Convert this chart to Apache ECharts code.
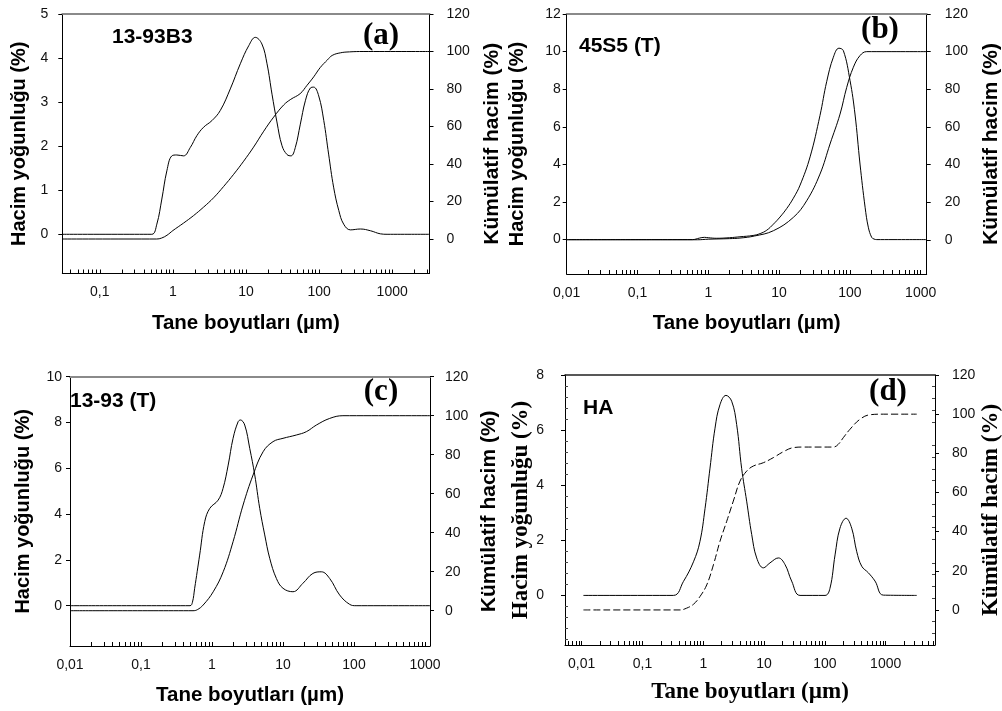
<!DOCTYPE html>
<html><head><meta charset="utf-8">
<script src="https://cdn.jsdelivr.net/npm/echarts@6/dist/echarts.min.js"></script>
<style>html,body{margin:0;padding:0;background:#fff}#c{width:1002px;height:711px}</style>
</head><body><div id="c"></div>
<script>
// ---------- DATA ----------
// Panel (a) 13-93B3
const aDensSize = [0.0307,0.3,0.515,0.603,0.706,0.827,0.968,1.13,1.40,1.73,2.13,2.63,3.42,4.45,6.1,8.36,10.9,13.4,16.5,19.4,22.7,26.5,31.1,36.4,41.3,47.3,55.4,64.9,76,84.4,98.9,116,135,158,186,217,268,368,505,692,851,3240];
const aDens     = [0,0,0,0.23,0.80,1.44,1.78,1.80,1.78,1.97,2.24,2.43,2.58,2.81,3.30,3.87,4.28,4.47,4.32,3.87,3.18,2.55,2.01,1.81,1.78,1.97,2.50,3.03,3.32,3.34,3.14,2.58,1.82,1.07,0.54,0.23,0.10,0.12,0.08,0.01,0,0];
const aCumSize  = [0.0307,0.6,0.7,0.83,1.0,1.4,1.92,2.63,3.61,4.94,6.78,9.29,12.7,17.5,23.9,32.8,41,55,68.5,84.5,104,130,151,196,260,400,3240];
const aCum      = [0,0,0.5,2,4.5,8.5,12.5,17,22,28,34.5,41.5,49,57.5,65,71.5,74.5,77.5,82,86.5,91.5,95.5,97.9,99.3,99.8,100,100];
// Panel (b) 45S5 (T)
const bDensSize = [0.01,0.6,0.75,0.88,1.0,1.3,2,2.8,4.3,5.4,6.7,8.3,10.3,12.8,15.9,19.8,27.4,37.8,47,58.4,70,80.9,100.5,118,139,164,182,203,219,240,1216];
const bDens     = [0,0,0.08,0.12,0.1,0.07,0.1,0.15,0.22,0.32,0.5,0.82,1.2,1.65,2.2,2.9,4.4,6.6,8.4,9.7,10.18,10.05,8.46,6.68,4.02,1.72,0.66,0.12,0.03,0,0];
const bCumSize  = [0.01,0.7,1,2,2.8,4.5,8.3,15.9,24.5,37.8,52.4,72.6,90.2,112,139,173,1216];
const bCum      = [0,0,0.3,0.6,0.9,2,4.8,11.9,20.7,34.9,50.9,66.8,81,91.7,97.9,100,100];
// Panel (c) 13-93 (T)
const cDensSize = [0.01,0.49,0.53,0.57,0.67,0.79,0.93,1.22,1.43,1.69,1.98,2.33,2.51,2.89,3.40,4.0,4.7,5.53,6.5,8.07,10,13.8,19.1,26.4,34.7,45.4,62.7,86.7,107,1176];
const cDens     = [0,0,0.15,0.76,2.21,3.67,4.25,4.61,5.12,6.14,7.31,8.03,8.11,7.89,6.87,5.71,4.25,3.09,2.07,1.19,0.76,0.61,0.98,1.41,1.48,1.19,0.47,0.06,0,0];
const cCumSize  = [0.01,0.54,0.62,0.75,1.04,1.44,1.98,2.74,3.79,5.24,7.24,10,15.4,21.3,29.5,45.4,69.8,1176];
const cCum      = [0,0,0.5,2.9,9.7,20,35.4,54.2,69.6,81.5,86.7,88.4,90.1,91.8,95.2,98.6,100,100];
// Panel (d) HA
const dDensSize = [0.0107,0.322,0.47,0.69,0.88,1.07,1.29,1.56,1.88,2.36,2.93,3.54,4.28,5.17,6.26,7.56,9.73,12.5,17.2,22.1,28.4,39,100.5,121,147,177,223,276,333,403,519,668,916,3240];
const dDens     = [0,0,0.50,1.22,1.95,3.16,4.62,6.07,6.92,7.26,7.05,6.20,4.6,3.42,2.21,1.36,1.00,1.18,1.36,1.12,0.52,0,0,0.25,1.47,2.44,2.80,2.44,1.60,1.06,0.82,0.52,0.01,0];
const dCumSize  = [0.0107,0.414,0.53,0.69,0.88,1.14,1.47,1.88,2.43,3.12,4.02,5.17,6.65,9.73,14.2,20.7,30.3,44.3,138,166,201,259,378,552,916,3240];
const dCum      = [0,0,0.9,2.9,6.8,12.8,23.1,35,45.3,55.6,65.8,70.9,73.5,75.2,77.8,80.8,82.9,83.2,83.2,84.6,88,92.3,97.4,99.7,100,100];

// Tick labels
const xLabelsA   = [0.1, 1, 10, 100, 1000];
const xLabelsBCD = [0.01, 0.1, 1, 10, 100, 1000];
const yTicksA = [0, 1, 2, 3, 4, 5];
const yTicksB = [0, 2, 4, 6, 8, 10, 12];
const yTicksC = [0, 2, 4, 6, 8, 10];
const yTicksD = [0, 2, 4, 6, 8];
const cumTicks = [0, 20, 40, 60, 80, 100, 120];

const sampleNames = ['13-93B3', '45S5 (T)', '13-93 (T)', 'HA'];
const panelTags = ['(a)', '(b)', '(c)', '(d)'];
const xTitle = 'Tane boyutları (µm)';
const yLeftTitle = 'Hacim yoğunluğu (%)';
const yRightTitle = 'Kümülatif hacim (%)';

// ---------- BUILD ----------
const SANS = '"Liberation Sans", Arial, sans-serif';
const SERIF = '"Liberation Serif", "Times New Roman", serif';
const zip = (xs, ys) => xs.map((x, i) => [x, ys[i]]);
function logMinorTicks(min, max) {
  const out = [];
  for (let e = -3; e <= 4; e++) for (let m = 1; m <= 9; m++) {
    const v = +(m * Math.pow(10, e)).toPrecision(6);
    if (v > min && v < max) out.push(v);
  }
  return out;
}
const fmtX = v => (v < 1 ? String(v).replace('.', ',') : String(v));

const panels = [
  { grid: {left: 62.3, top: 14, width: 367.2, height: 259.5}, xMin: 0.0307, xMax: 3240, xLabels: xLabelsA,
    yL: {min: -0.89, max: 5, ticks: yTicksA}, yR: {min: -18.4, max: 120, ticks: cumTicks},
    dens: zip(aDensSize, aDens), cum: zip(aCumSize, aCum), dashed: false, serif: false,
    gapL: 33, gapR: 52, gapX: 39, mL: 14, mR: 17, topColor: '#8a8a8a', topW: 2, minorY: false,
    tag: [381, 36], name: [112, 37] },
  { grid: {left: 566.7, top: 14, width: 360, height: 260}, xMin: 0.01, xMax: 1216, xLabels: xLabelsBCD,
    yL: {min: -1.83, max: 12, ticks: yTicksB}, yR: {min: -18.2, max: 120, ticks: cumTicks},
    dens: zip(bDensSize, bDens), cum: zip(bCumSize, bCum), dashed: false, serif: false,
    gapL: 39, gapR: 54, gapX: 39, mL: 6, mR: 18, topColor: '#8a8a8a', topW: 2, minorY: false,
    tag: [880, 30], name: [579, 46] },
  { grid: {left: 70, top: 376.7, width: 360, height: 269.3}, xMin: 0.01, xMax: 1176, xLabels: xLabelsBCD,
    yL: {min: -1.76, max: 10, ticks: yTicksC}, yR: {min: -18.1, max: 120, ticks: cumTicks},
    dens: zip(cDensSize, cDens), cum: zip(cCumSize, cCum), dashed: false, serif: false,
    gapL: 37, gapR: 49, gapX: 39, mL: 8, mR: 15, topColor: '#8a8a8a', topW: 2, minorY: false,
    tag: [381, 392], name: [70, 401] },
  { grid: {left: 565, top: 375, width: 370, height: 270}, xMin: 0.00532, xMax: 6470, xLabels: xLabelsBCD,
    yL: {min: -1.80, max: 8, ticks: yTicksD}, yR: {min: -17.9, max: 120, ticks: cumTicks},
    dens: zip(dDensSize, dDens), cum: zip(dCumSize, dCum), dashed: true, serif: true,
    gapL: 32, gapR: 44, gapX: 36, mL: 21, mR: 17, topColor: '#222', topW: 1.5, minorY: true,
    tag: [888, 392], name: [583, 408] }
];

const grid = [], xAxis = [], yAxis = [], series = [], graphic = [];
panels.forEach((p, i) => {
  grid.push(Object.assign({outerBoundsMode: 'none', containLabel: false}, p.grid));
  const titleFont = p.serif ? SERIF : SANS;
  const yLNameStyle = {fontFamily: titleFont, fontWeight: 'bold', fontSize: p.serif ? 23 : 20, color: '#000'};
  const yRNameStyle = {fontFamily: titleFont, fontWeight: 'bold', fontSize: p.serif ? 23 : 21, color: '#000'};
  const xNameStyle = {fontFamily: titleFont, fontWeight: 'bold', fontSize: p.serif ? 23 : 20.5, color: '#000'};
  const lbl = {fontFamily: SANS, fontSize: 14, color: '#111'};
  xAxis.push({
    gridIndex: i, type: 'log', logBase: 10, min: p.xMin, max: p.xMax,
    name: xTitle, nameLocation: 'middle', nameGap: p.gapX, nameTextStyle: xNameStyle,
    axisLine: {show: true, onZero: false, lineStyle: {color: '#000', width: 1}},
    axisTick: {show: true, inside: true, length: 4, customValues: logMinorTicks(p.xMin, p.xMax), lineStyle: {color: '#000'}},
    axisLabel: Object.assign({customValues: p.xLabels, formatter: fmtX, margin: 12}, lbl),
    splitLine: {show: false}, minorTick: {show: false}
  });
  xAxis.push({
    gridIndex: i, type: 'value', position: 'top', min: 0, max: 1,
    axisLine: {show: true, onZero: false, lineStyle: {color: p.topColor, width: p.topW}},
    axisTick: {show: false}, axisLabel: {show: false}, splitLine: {show: false}
  });
  const minor = p.minorY ? {show: true, splitNumber: 5, length: -3, lineStyle: {color: '#444'}} : {show: false};
  yAxis.push({
    gridIndex: i, type: 'value', position: 'left', min: p.yL.min, max: p.yL.max,
    name: yLeftTitle, nameLocation: 'middle', nameGap: p.gapL, nameRotate: 90, nameTextStyle: yLNameStyle,
    axisLine: {show: true, onZero: false, lineStyle: {color: '#000', width: 1}},
    axisTick: {show: true, inside: false, length: 4, customValues: p.yL.ticks, lineStyle: {color: '#000'}},
    axisLabel: Object.assign({customValues: p.yL.ticks, margin: p.mL}, lbl),
    splitLine: {show: false}, minorTick: minor
  });
  yAxis.push({
    gridIndex: i, type: 'value', position: 'right', min: p.yR.min, max: p.yR.max,
    name: yRightTitle, nameLocation: 'middle', nameGap: p.gapR, nameRotate: 90, nameTextStyle: yRNameStyle,
    axisLine: {show: true, onZero: false, lineStyle: {color: '#000', width: 1}},
    axisTick: {show: true, inside: false, length: 4, customValues: p.yR.ticks, lineStyle: {color: '#000'}},
    axisLabel: Object.assign({customValues: p.yR.ticks, margin: p.mR, align: 'left'}, lbl),
    splitLine: {show: false}, minorTick: minor
  });
  series.push({
    type: 'line', xAxisIndex: 2 * i, yAxisIndex: 2 * i, data: p.dens, showSymbol: false,
    smooth: 0.4, lineStyle: {color: '#000', width: 1}, silent: true, z: 3
  });
  series.push({
    type: 'line', xAxisIndex: 2 * i, yAxisIndex: 2 * i + 1, data: p.cum, showSymbol: false,
    smooth: 0.4,
    lineStyle: {color: '#000', width: 1, type: p.dashed ? [7, 3] : 'solid'}, silent: true, z: 3
  });
  graphic.push({
    type: 'text', x: p.tag[0], y: p.tag[1],
    style: {text: panelTags[i], font: 'bold 31px ' + SERIF, fill: '#000', align: 'center', verticalAlign: 'middle'}
  });
  graphic.push({
    type: 'text', x: p.name[0], y: p.name[1],
    style: {text: sampleNames[i], font: 'bold 21px ' + SANS, fill: '#000', align: 'left', verticalAlign: 'middle'}
  });
});

const chart = echarts.init(document.getElementById('c'), null, {renderer: 'canvas'});
chart.setOption({animation: false, backgroundColor: '#fff', grid, xAxis, yAxis, series, graphic});
</script></body></html>
